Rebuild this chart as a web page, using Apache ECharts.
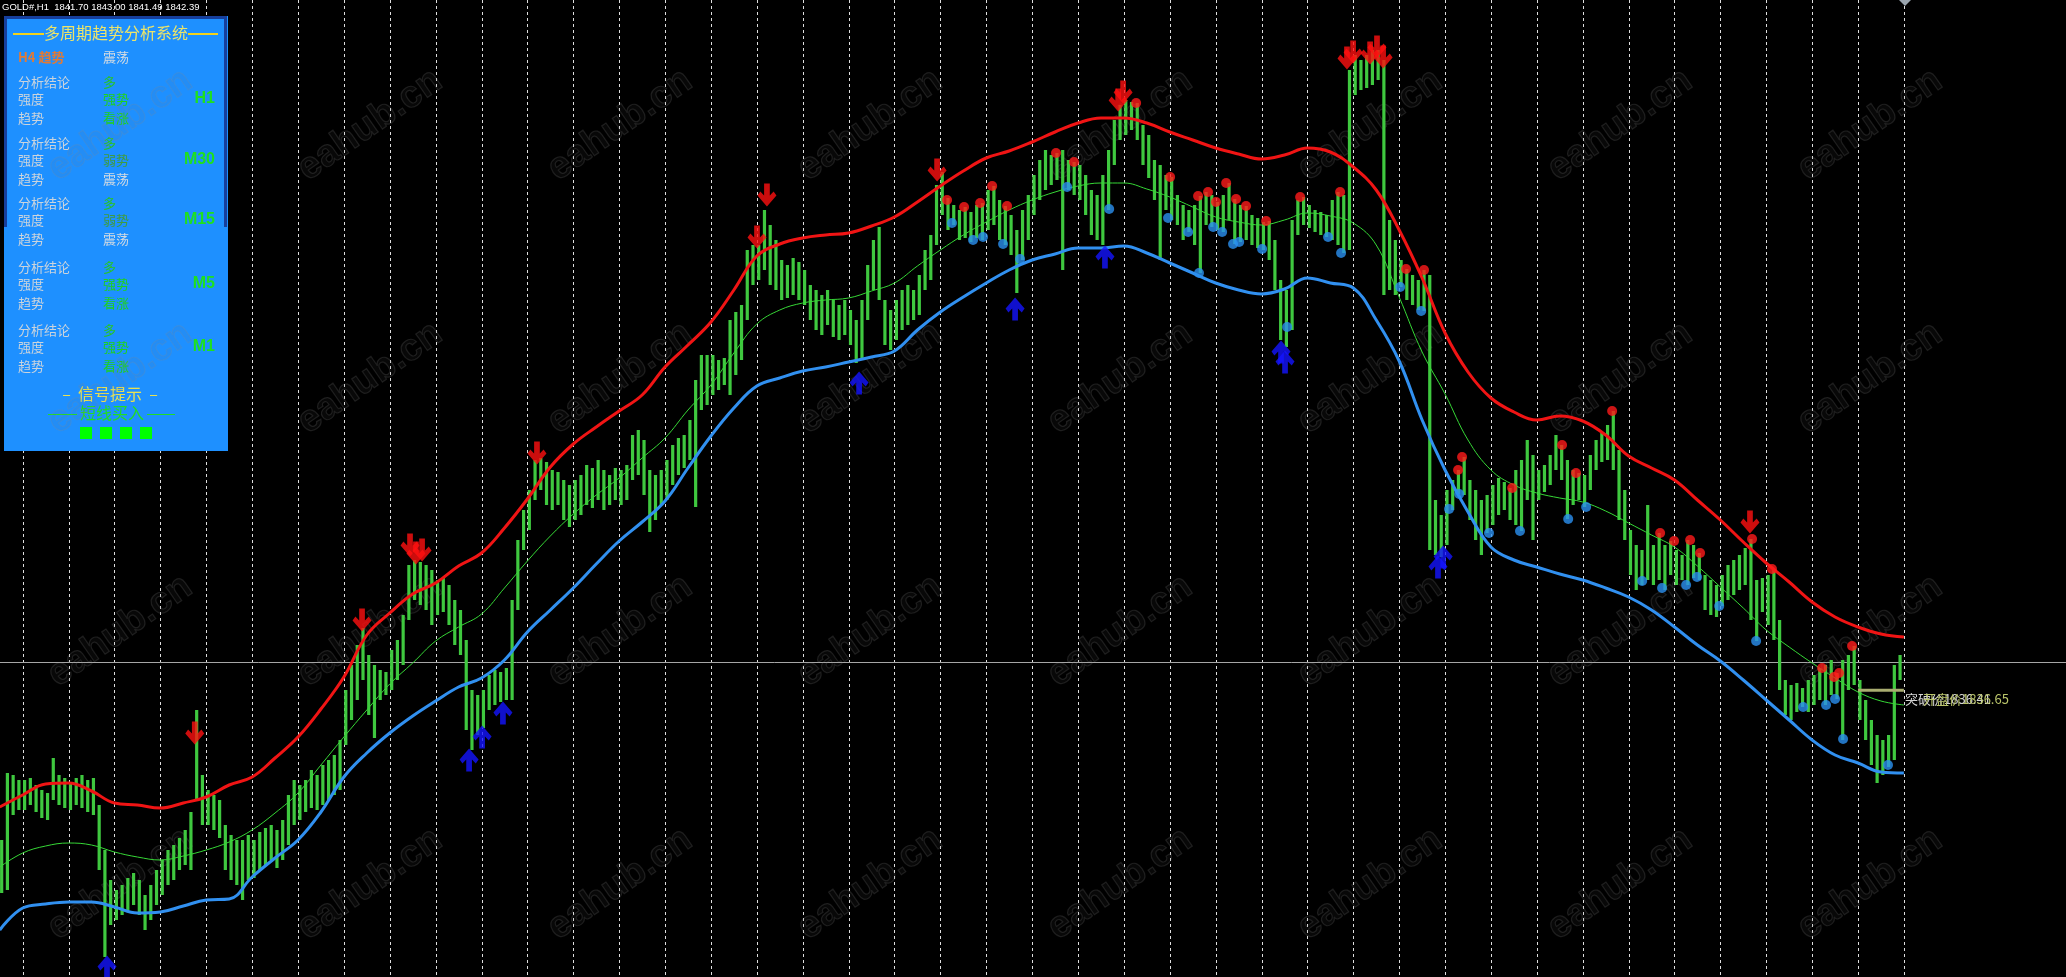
<!DOCTYPE html>
<html>
<head>
<meta charset="utf-8">
<title>GOLD#,H1</title>
<script src="https://cdn.jsdelivr.net/npm/echarts@6/dist/echarts.min.js"></script>
<style>
  html, body { margin: 0; padding: 0; background: #000; }
  #chart { width: 2066px; height: 977px; }
</style>
</head>
<body>
<div id="chart"></div>
<script>
// 价格柱：每根 3 小时的最高/最低价，第一根位于 -11 小时
const barStart = -11
const barStep = 3
const highs = [
  1806.7, 1820.1, 1819.7, 1818.7,
  1818.7, 1819.1, 1817.7, 1816.7, 1816.1, 1823.1, 1819.7, 1819.1,
  1818.3, 1819.1, 1819.7, 1818.7, 1819.1, 1813.7, 1804.7, 1798.7,
  1796.7, 1797.7, 1799.1, 1800.1, 1798.7, 1795.7, 1797.7, 1800.7,
  1802.7, 1804.7, 1805.7, 1807.1, 1808.7, 1812.3, 1832.7, 1819.7,
  1816.7, 1815.7, 1814.7, 1809.7, 1807.7, 1806.7, 1806.7, 1807.7,
  1806.7, 1808.3, 1809.1, 1809.7, 1808.7, 1810.7, 1815.7, 1818.7,
  1817.7, 1818.7, 1820.7, 1819.7, 1821.7, 1822.7, 1823.7, 1826.7,
  1836.7, 1841.7, 1845.7, 1849.1, 1843.7, 1841.7, 1840.7, 1840.3,
  1844.7, 1846.7, 1851.7, 1861.7, 1862.7, 1862.3, 1861.7, 1860.7,
  1858.7, 1859.1, 1857.7, 1854.7, 1852.7, 1846.7, 1836.7, 1835.7,
  1836.7, 1839.7, 1840.7, 1840.3, 1841.1, 1854.7, 1866.7, 1872.7,
  1876.7, 1882.7, 1883.1, 1882.3, 1880.7, 1880.3, 1878.7, 1877.7,
  1878.7, 1879.7, 1881.7, 1881.1, 1882.7, 1880.7, 1879.7, 1881.1,
  1880.7, 1881.7, 1887.7, 1888.7, 1886.7, 1880.7, 1879.7, 1880.7,
  1882.7, 1885.7, 1887.1, 1887.7, 1890.7, 1898.7, 1903.7, 1903.7,
  1903.7, 1902.7, 1903.1, 1910.7, 1912.3, 1913.7, 1924.7, 1925.7,
  1925.7, 1932.7, 1929.7, 1926.7, 1922.7, 1921.7, 1923.1, 1922.3,
  1920.7, 1917.7, 1916.7, 1915.7, 1916.7, 1914.7, 1913.7, 1914.7,
  1912.7, 1910.7, 1914.7, 1921.7, 1926.7, 1929.3, 1914.7, 1912.7,
  1914.7, 1916.7, 1917.7, 1916.7, 1919.7, 1924.7, 1927.7, 1937.7,
  1940.3, 1935.1, 1933.7, 1932.7, 1933.3, 1932.3, 1933.7, 1934.1,
  1936.7, 1937.5, 1934.7, 1933.5, 1931.7, 1928.7, 1932.7, 1935.7,
  1939.7, 1942.7, 1944.7, 1943.7, 1944.1, 1944.7, 1942.7, 1942.3,
  1941.7, 1939.7, 1936.7, 1935.7, 1939.7, 1944.7, 1950.7, 1953.7,
  1954.7, 1954.3, 1954.1, 1949.7, 1947.7, 1942.7, 1941.7, 1939.7,
  1939.3, 1935.7, 1933.7, 1932.7, 1933.7, 1935.5, 1936.3, 1935.7,
  1934.3, 1935.7, 1938.1, 1934.9, 1933.7, 1933.5, 1931.7, 1931.1,
  1930.3, 1930.5, 1926.7, 1918.7, 1916.7, 1930.7, 1934.7, 1935.3,
  1933.7, 1932.7, 1932.3, 1931.7, 1934.7, 1936.3, 1935.7, 1960.7,
  1963.7, 1962.7, 1963.7, 1964.7, 1964.7, 1962.7, 1930.7, 1926.7,
  1922.7, 1920.9, 1919.7, 1918.7, 1920.7, 1919.7, 1874.7, 1871.7,
  1876.7, 1878.7, 1880.7, 1883.3, 1878.7, 1876.7, 1874.7, 1875.7,
  1877.7, 1879.1, 1878.3, 1877.1, 1880.7, 1882.7, 1886.7, 1883.7,
  1880.7, 1881.7, 1883.7, 1887.7, 1885.7, 1882.7, 1880.7, 1880.1,
  1879.7, 1883.7, 1886.7, 1888.1, 1889.7, 1892.5, 1884.7, 1876.7,
  1868.7, 1865.7, 1864.7, 1873.7, 1865.7, 1868.1, 1865.7, 1866.5,
  1864.7, 1863.7, 1866.7, 1865.7, 1864.1, 1859.7, 1858.7, 1857.7,
  1859.7, 1861.7, 1862.7, 1863.7, 1865.1, 1866.9, 1858.7, 1859.1,
  1859.7, 1860.9, 1850.7, 1838.7, 1837.7, 1838.1, 1837.1, 1838.7,
  1839.7, 1841.1, 1841.7, 1842.7, 1840.1, 1842.7, 1843.7, 1845.5,
  1838.7, 1834.7, 1830.7, 1827.7, 1826.7, 1827.7, 1841.7, 1843.7
]
const lows = [
  1796.1, 1796.7, 1811.7, 1812.7,
  1812.7, 1813.7, 1812.3, 1811.1, 1810.7, 1814.7, 1813.7, 1813.1,
  1812.7, 1813.7, 1813.1, 1812.3, 1811.7, 1800.7, 1783.3, 1789.7,
  1790.7, 1791.7, 1792.7, 1793.7, 1791.7, 1788.7, 1790.7, 1793.7,
  1795.7, 1797.7, 1798.7, 1800.7, 1801.7, 1800.7, 1814.7, 1809.7,
  1809.7, 1808.7, 1807.1, 1800.7, 1798.7, 1797.7, 1794.7, 1798.7,
  1799.1, 1800.7, 1801.7, 1802.7, 1801.1, 1802.7, 1805.7, 1809.7,
  1810.7, 1812.3, 1813.1, 1812.7, 1813.7, 1814.7, 1815.7, 1816.7,
  1825.7, 1830.7, 1834.7, 1838.7, 1831.7, 1827.1, 1834.7, 1835.7,
  1836.7, 1838.7, 1841.7, 1850.7, 1854.7, 1853.7, 1852.7, 1849.7,
  1851.7, 1852.3, 1849.7, 1845.7, 1843.7, 1828.7, 1824.7, 1827.7,
  1829.1, 1832.7, 1833.7, 1834.3, 1834.7, 1834.7, 1852.7, 1864.7,
  1868.7, 1874.7, 1876.7, 1873.7, 1872.7, 1873.7, 1870.7, 1869.3,
  1870.7, 1871.7, 1873.7, 1873.1, 1874.7, 1872.7, 1873.7, 1874.7,
  1873.7, 1874.7, 1878.7, 1879.7, 1875.7, 1868.3, 1870.7, 1873.7,
  1874.7, 1877.7, 1879.7, 1881.1, 1882.7, 1873.3, 1892.7, 1893.7,
  1895.7, 1896.7, 1897.7, 1895.7, 1899.7, 1902.7, 1910.7, 1917.7,
  1918.7, 1920.7, 1917.7, 1916.7, 1914.7, 1915.1, 1915.7, 1914.7,
  1913.7, 1910.7, 1908.7, 1907.7, 1909.7, 1907.3, 1906.7, 1907.7,
  1905.7, 1902.1, 1902.7, 1910.7, 1916.7, 1914.7, 1905.7, 1904.7,
  1906.7, 1908.7, 1909.7, 1910.7, 1911.7, 1916.7, 1918.7, 1925.7,
  1931.7, 1928.7, 1929.7, 1926.7, 1927.1, 1926.3, 1927.1, 1926.7,
  1928.7, 1929.7, 1926.7, 1925.7, 1923.7, 1916.1, 1922.7, 1926.7,
  1931.7, 1934.7, 1936.7, 1937.7, 1938.7, 1920.7, 1936.7, 1935.7,
  1934.7, 1931.7, 1927.7, 1926.7, 1925.7, 1932.7, 1941.7, 1946.7,
  1947.7, 1948.7, 1946.7, 1941.7, 1939.1, 1934.7, 1922.7, 1932.7,
  1930.7, 1929.7, 1926.7, 1928.3, 1925.7, 1920.1, 1929.7, 1929.3,
  1928.7, 1928.3, 1930.7, 1925.9, 1926.3, 1926.7, 1925.7, 1925.1,
  1924.7, 1922.7, 1916.7, 1906.7, 1905.3, 1908.7, 1927.7, 1929.7,
  1929.1, 1928.3, 1927.7, 1927.3, 1926.7, 1925.7, 1924.1, 1924.7,
  1955.7, 1956.7, 1957.1, 1957.7, 1958.7, 1915.7, 1916.7, 1915.7,
  1917.3, 1914.7, 1913.7, 1912.7, 1912.5, 1864.7, 1863.7, 1863.3,
  1865.7, 1872.7, 1875.9, 1875.7, 1870.7, 1866.7, 1863.7, 1868.1,
  1869.7, 1871.7, 1872.7, 1870.7, 1869.7, 1868.5, 1874.7, 1866.7,
  1874.7, 1876.3, 1877.7, 1880.7, 1878.7, 1870.9, 1873.7, 1874.7,
  1873.3, 1876.7, 1880.7, 1882.3, 1882.7, 1880.7, 1870.7, 1866.7,
  1859.7, 1856.7, 1857.7, 1858.7, 1857.7, 1858.7, 1856.7, 1859.7,
  1857.7, 1858.7, 1857.7, 1859.1, 1858.7, 1852.7, 1851.7, 1851.3,
  1853.5, 1854.7, 1855.7, 1856.7, 1857.7, 1850.7, 1846.5, 1852.3,
  1849.7, 1846.7, 1836.7, 1831.7, 1830.7, 1832.3, 1833.3, 1832.3,
  1833.7, 1834.7, 1833.7, 1835.7, 1834.9, 1826.7, 1836.7, 1837.7,
  1830.7, 1826.7, 1821.7, 1818.1, 1819.7, 1821.3, 1822.7, 1838.7
]

// 通道：每 12 小时一个点，从 -12 小时开始
const bandStart = -12
const bandStep = 12
const upperBand = [
  1813.3, 1815.7, 1817.9, 1818.1, 1816.5, 1814.1, 1813.7, 1813.1, 1814.1, 1815.3,
  1817.7, 1819.3, 1823.1, 1827.3, 1832.9, 1839.3, 1847.7, 1852.1, 1855.9, 1858.1,
  1861.5, 1864.1, 1869.1, 1874.9, 1881.3, 1885.9, 1889.3, 1892.5, 1895.7, 1901.3,
  1905.7, 1910.3, 1916.7, 1923.5, 1925.9, 1927.1, 1927.7, 1928.1, 1929.5, 1931.3,
  1934.3, 1937.5, 1940.5, 1943.1, 1944.5, 1946.3, 1948.3, 1950.1, 1951.1, 1951.1,
  1950.1, 1948.3, 1946.7, 1945.1, 1943.9, 1942.9, 1943.7, 1945.1, 1944.3, 1941.3,
  1936.7, 1928.7, 1919.1, 1908.1, 1900.3, 1895.1, 1892.3, 1890.7, 1891.5, 1890.5,
  1887.7, 1883.5, 1881.1, 1878.7, 1874.7, 1870.7, 1866.3, 1862.1, 1858.3, 1854.3,
  1851.3, 1849.3, 1847.9, 1847.3
]
const middleBand = [
  1801.3, 1804.1, 1805.5, 1806.1, 1805.7, 1804.3, 1803.3, 1802.7, 1803.5, 1804.7,
  1806.3, 1808.7, 1812.1, 1816.1, 1821.7, 1827.3, 1832.7, 1837.9, 1842.1, 1846.5,
  1849.3, 1851.9, 1857.1, 1862.5, 1867.5, 1871.9, 1875.7, 1879.1, 1883.1, 1887.1,
  1892.7, 1897.7, 1904.1, 1909.9, 1912.7, 1914.1, 1914.7, 1915.1, 1916.5, 1918.1,
  1921.5, 1924.7, 1927.7, 1930.3, 1932.7, 1934.7, 1936.3, 1937.5, 1938.1, 1938.1,
  1936.9, 1935.3, 1933.3, 1931.3, 1930.3, 1929.7, 1930.7, 1932.1, 1931.5, 1930.1,
  1925.7, 1915.3, 1904.3, 1895.9, 1886.7, 1880.7, 1877.7, 1876.1, 1875.1, 1874.3,
  1872.5, 1870.1, 1867.7, 1865.3, 1861.5, 1857.3, 1853.1, 1848.7, 1845.3, 1842.1,
  1839.1, 1836.3, 1834.5, 1833.7
]
const lowerBand = [
  1788.7, 1793.1, 1793.9, 1794.3, 1794.3, 1793.3, 1792.1, 1792.3, 1793.5, 1794.7,
  1794.9, 1799.3, 1803.1, 1806.7, 1812.3, 1819.3, 1824.1, 1828.1, 1831.5, 1834.5,
  1837.3, 1839.1, 1842.7, 1848.3, 1852.7, 1857.1, 1861.9, 1866.5, 1870.3, 1874.5,
  1881.1, 1887.5, 1893.1, 1897.5, 1899.1, 1900.5, 1901.3, 1902.3, 1903.3, 1904.5,
  1908.7, 1912.3, 1915.3, 1918.1, 1920.7, 1922.7, 1923.9, 1925.1, 1925.1, 1925.5,
  1924.1, 1922.1, 1920.1, 1918.1, 1916.7, 1915.9, 1916.9, 1919.1, 1918.1, 1917.1,
  1910.7, 1902.5, 1890.7, 1880.7, 1872.3, 1865.3, 1862.7, 1861.3, 1859.9, 1858.7,
  1857.1, 1855.3, 1852.7, 1849.3, 1845.7, 1842.5, 1838.7, 1834.7, 1830.7, 1826.7,
  1823.7, 1822.1, 1820.3, 1820.1
]

// 信号 [小时, 价格]
const sellArrows = [
  [90, 1828.1], [177.5, 1850.7], [202.6, 1865.7], [205.7, 1864.1], [208.9, 1864.7],
  [269, 1884.1], [384.1, 1927.3], [389.3, 1935.7], [478.3, 1940.7], [573, 1954.7],
  [575.6, 1956.3], [692.7, 1963.1], [695.9, 1964.3], [704.8, 1964.1], [708.4, 1965.3],
  [711.6, 1963.3], [903.5, 1870.3]
]
const buyArrows = [
  [44.1, 1781.3], [233.5, 1822.7], [240.3, 1827.3], [251.2, 1832.1], [437.5, 1898.1],
  [519.1, 1912.9], [566.1, 1923.3], [658.2, 1904.3], [660.3, 1902.3], [740.3, 1861.3],
  [743, 1863.3]
]
const redDots = [
  [483.5, 1934.7], [492.4, 1933.3], [500.8, 1934.1], [507.1, 1937.5], [514.9, 1933.5],
  [540.5, 1944.1], [549.9, 1942.3], [582.4, 1954.1], [600.2, 1939.3], [614.8, 1935.5],
  [620, 1936.3], [624.2, 1934.3], [629.5, 1938.1], [634.7, 1934.9], [639.9, 1933.5],
  [650.4, 1930.5], [668.2, 1935.3], [689.1, 1936.3], [723.6, 1920.9], [733, 1920.7],
  [750.8, 1880.7], [752.9, 1883.3], [779.1, 1877.1], [805.2, 1885.7], [812.5, 1880.1],
  [831.4, 1892.5], [856.5, 1868.1], [863.8, 1866.5], [872.2, 1866.7], [877.4, 1864.1],
  [904.6, 1866.9], [915, 1860.9], [941.2, 1841.1], [947.5, 1839.3], [950.1, 1840.1],
  [956.9, 1845.5]
]
const blueDots = [
  [486.1, 1930.1], [497.1, 1926.7], [502.3, 1927.3], [512.8, 1925.9], [521.7, 1922.9],
  [546.3, 1937.3], [568.3, 1932.9], [599.1, 1931.1], [609.6, 1928.3], [615.3, 1920.1],
  [622.7, 1929.3], [627.4, 1928.3], [633.1, 1925.9], [636.3, 1926.3], [648.3, 1924.9],
  [661.4, 1909.3], [682.8, 1927.3], [689.6, 1924.1], [720.5, 1917.3], [731.5, 1912.5],
  [746.1, 1872.9], [751.4, 1875.9], [767, 1868.1], [783.2, 1868.5], [808.4, 1870.9],
  [817.8, 1873.3], [847.1, 1858.5], [857.5, 1857.1], [870.1, 1857.7], [875.8, 1859.3],
  [887.4, 1853.5], [906.7, 1846.5], [931.3, 1833.3], [943.3, 1833.7], [948, 1834.9],
  [952.2, 1826.9], [975.7, 1821.7]
]

// 日分隔线（小时）
const daySeparators = [
  0, 24, 48, 72, 96, 120, 144, 168, 192, 216, 240, 264, 288, 312, 336, 360, 384, 408, 432, 456, 480,
  504, 528, 552, 576, 600, 624, 648, 672, 696, 720, 744, 768, 792, 816, 840, 864, 888, 912, 936, 960, 984
]

const bidPrice = 1842.39
const openPrice = 1836.65
const breakPrice = 1836.41
const openLineSpan = [960, 984]
const quote = 'GOLD#,H1  1841.70 1843.00 1841.49 1842.39'

// 面板文字
const timeframes = ['H1', 'M30', 'M15', 'M5', 'M1']
const conclusions = ['多', '多', '多', '多', '多']
const strengths = ['强势', '弱势', '弱势', '强势', '强势']
const trends = ['看涨', '震荡', '震荡', '看涨', '看涨']

const xMin = -11.874
const xMax = 1068.8
const yMin = 1779.3
const yMax = 1974.7

const cjk = '"Noto Sans CJK SC", sans-serif'
const valueColor = {
  '多': '#27c427', '强势': '#1fd11f', '看涨': '#1fd11f', '弱势': '#3f9c3f', '震荡': '#d2dae2'
}

const graphics = []
// 面板
graphics.push({ type: 'rect', z: 1, silent: true, shape: { x: 4, y: 16, width: 224, height: 435 }, style: { fill: '#1e90ff' } })
graphics.push({ type: 'polyline', z: 1, silent: true, shape: { points: [[5.5, 227], [5.5, 17.5], [225.5, 17.5], [225.5, 227]] }, style: { stroke: '#173f9c', lineWidth: 3, fill: 'none' } })
graphics.push({ type: 'line', z: 1, shape: { x1: 13, y1: 34, x2: 44, y2: 34 }, style: { stroke: '#f2d21c', lineWidth: 2 } })
graphics.push({ type: 'line', z: 1, shape: { x1: 188, y1: 34, x2: 218, y2: 34 }, style: { stroke: '#f2d21c', lineWidth: 2 } })
graphics.push({ type: 'text', z: 1, x: 116, y: 33, style: { text: '多周期趋势分析系统', fill: '#ece46a', font: '16px ' + cjk, textAlign: 'center', verticalAlign: 'middle' } })
graphics.push({ type: 'text', z: 1, x: 18, y: 57, style: { text: 'H4 趋势', fill: '#e27a36', font: 'bold 13px ' + cjk, verticalAlign: 'middle' } })
graphics.push({ type: 'text', z: 1, x: 103, y: 57, style: { text: '震荡', fill: '#d2dae2', font: '13px ' + cjk, verticalAlign: 'middle' } })

const blockTops = [82, 143, 203, 267, 330]
const rowOffsets = [0, 17.5, 36]
const labels = ['分析结论', '强度', '趋势']
timeframes.forEach((tf, i) => {
  const top = blockTops[i]
  const values = [conclusions[i], strengths[i], trends[i]]
  labels.forEach((lab, r) => {
    graphics.push({ type: 'text', z: 1, x: 18, y: top + rowOffsets[r], style: { text: lab, fill: '#ccd4dc', font: '13px ' + cjk, verticalAlign: 'middle' } })
    graphics.push({ type: 'text', z: 1, x: 103, y: top + rowOffsets[r], style: { text: values[r], fill: valueColor[values[r]], font: '13px ' + cjk, verticalAlign: 'middle' } })
  })
  graphics.push({ type: 'text', z: 1, x: 215, y: top + 17, style: { text: tf, fill: '#1fe01f', font: 'bold 16px "Liberation Sans", Arial', textAlign: 'right', verticalAlign: 'middle' } })
})

graphics.push({ type: 'text', z: 1, x: 110, y: 394, style: { text: '–  信号提示  –', fill: '#e8e052', font: '16px ' + cjk, textAlign: 'center', verticalAlign: 'middle' } })
graphics.push({ type: 'line', z: 1, shape: { x1: 48, y1: 414.5, x2: 77, y2: 414.5 }, style: { stroke: '#22dd22', lineWidth: 1 } })
graphics.push({ type: 'line', z: 1, shape: { x1: 147, y1: 414.5, x2: 175, y2: 414.5 }, style: { stroke: '#22dd22', lineWidth: 1 } })
graphics.push({ type: 'text', z: 1, x: 112, y: 413, style: { text: '短线买入', fill: '#22dd22', font: '16px ' + cjk, textAlign: 'center', verticalAlign: 'middle' } })
;[80, 100, 120, 140].forEach((sx) => {
  graphics.push({ type: 'rect', z: 1, shape: { x: sx, y: 427, width: 12, height: 12 }, style: { fill: '#00ff00' } })
})

// 水印
for (let i = 0; i < 8; i++) {
  for (let j = 0; j < 4; j++) {
    graphics.push({
      type: 'text', z: 2, silent: true,
      x: 120 + 250 * i, y: 125 + 253 * j,
      rotation: (35 * Math.PI) / 180,
      style: {
        text: 'eahub.cn', font: 'bold 38px "Liberation Sans", Arial',
        fill: 'rgba(110,110,110,0.07)', stroke: 'rgba(140,140,140,0.2)', lineWidth: 1.2,
        textAlign: 'center', verticalAlign: 'middle'
      }
    })
  }
}

// 左上角报价、右侧价格标签
graphics.push({ type: 'text', z: 10, x: 2, y: 7, style: { text: quote, fill: '#ffffff', font: '9.5px "Liberation Sans", Arial', verticalAlign: 'middle' } })
graphics.push({ type: 'text', z: 10, x: 1905, y: 699, style: { text: '突破价' + breakPrice, fill: '#d4d4d4', font: '13px ' + cjk, verticalAlign: 'middle' } })
graphics.push({ type: 'text', z: 10, x: 1923, y: 699, style: { text: '开盘价' + openPrice, fill: '#b9c46a', font: '13px ' + cjk, verticalAlign: 'middle' } })
graphics.push({ type: 'polygon', z: 10, shape: { points: [[1899, 0], [1911, 0], [1905, 6]] }, style: { fill: '#9aa4ae' } })

const bars = highs.map((h, i) => [barStart + barStep * i, lows[i], h])
const toBand = (arr) => arr.map((v, i) => [bandStart + bandStep * i, v])
const arrowPath = 'path://M7,0 L13,0 L13,12 L17,8 L20,12 L10,23 L0,12 L3,8 L7,12 Z'

const chart = echarts.init(document.getElementById('chart'))
chart.setOption({
  backgroundColor: '#000000',
  animation: false,
  grid: { left: 0, right: 0, top: 0, bottom: 0, containLabel: false },
  xAxis: { type: 'value', min: xMin, max: xMax, show: false },
  yAxis: { type: 'value', min: yMin, max: yMax, show: false, scale: true },
  graphic: { elements: graphics },
  series: [
    {
      type: 'custom', z: 0, silent: true,
      data: daySeparators.map((h) => [h, yMin]),
      renderItem: (params, api) => {
        const p = api.coord([api.value(0), api.value(1)])
        const cs = params.coordSys
        const x = Math.round(p[0]) + 0.5
        return { type: 'line', shape: { x1: x, y1: cs.y, x2: x, y2: cs.y + cs.height }, style: { stroke: '#dedede', lineWidth: 1, lineDash: [3, 3] } }
      }
    },
    {
      type: 'custom', z: 1, silent: true,
      data: [[0, bidPrice]],
      renderItem: (params, api) => {
        const p = api.coord([api.value(0), api.value(1)])
        const cs = params.coordSys
        const y = Math.round(p[1]) + 0.5
        return { type: 'line', shape: { x1: cs.x, y1: y, x2: cs.x + cs.width, y2: y }, style: { stroke: '#a6a6a6', lineWidth: 1 } }
      }
    },
    {
      type: 'custom', z: 3, silent: true,
      data: bars,
      encode: { x: 0, y: [1, 2] },
      renderItem: (params, api) => {
        const x = api.value(0)
        const lo = api.coord([x, api.value(1)])
        const hi = api.coord([x, api.value(2)])
        return { type: 'line', shape: { x1: lo[0], y1: lo[1], x2: hi[0], y2: hi[1] }, style: { stroke: '#3fc83f', lineWidth: 3.2 } }
      }
    },
    { type: 'line', z: 4, data: toBand(middleBand), symbol: 'none', smooth: 0.4, lineStyle: { color: '#36d836', width: 1 } },
    { type: 'line', z: 4, data: toBand(upperBand), symbol: 'none', smooth: 0.4, lineStyle: { color: '#f01414', width: 3 } },
    { type: 'line', z: 4, data: toBand(lowerBand), symbol: 'none', smooth: 0.4, lineStyle: { color: '#3190f0', width: 3 } },
    { type: 'line', z: 4, data: openLineSpan.map((h) => [h, openPrice]), symbol: 'none', lineStyle: { color: '#a9ad70', width: 3 } },
    { type: 'scatter', z: 5, data: redDots, symbolSize: 10, itemStyle: { color: '#ff1a1a' } },
    { type: 'scatter', z: 5, data: blueDots, symbolSize: 10, itemStyle: { color: '#2a90f0' } },
    { type: 'scatter', z: 6, data: sellArrows, symbol: arrowPath, symbolSize: [19, 23], itemStyle: { color: '#ff1010' } },
    { type: 'scatter', z: 6, data: buyArrows, symbol: arrowPath, symbolRotate: 180, symbolSize: [19, 23], itemStyle: { color: '#1414ff' } }
  ]
})
</script>
</body>
</html>
